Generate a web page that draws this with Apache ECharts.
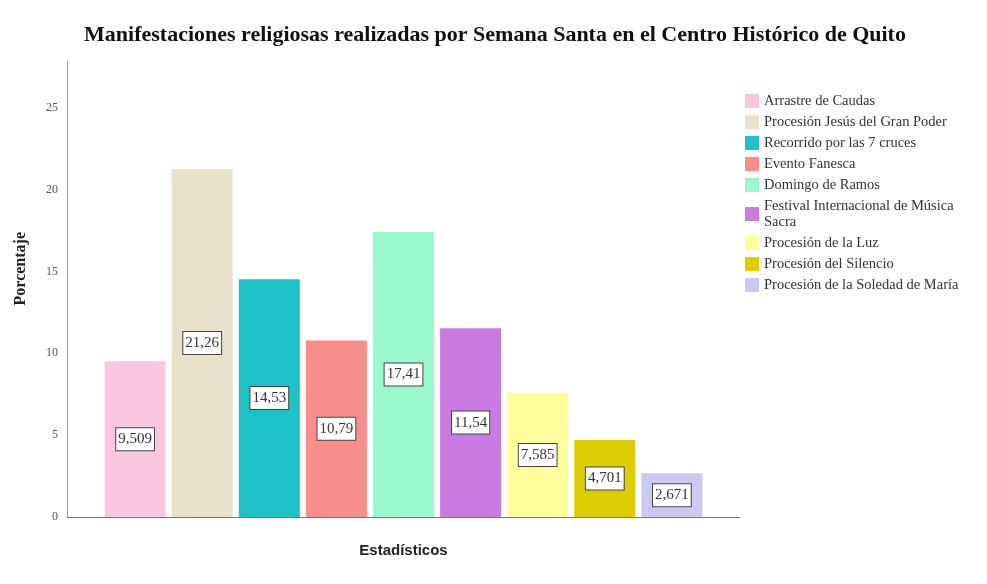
<!DOCTYPE html>
<html>
<head>
<meta charset="utf-8">
<script src="https://cdn.jsdelivr.net/npm/echarts@6/dist/echarts.min.js"></script>
<style>html,body{margin:0;padding:0;background:#fff}#c{width:987px;height:584px}</style>
</head>
<body>
<div id="c"></div>
<script>
const titleText = 'Manifestaciones religiosas realizadas por Semana Santa en el Centro Histórico de Quito';
const categories = ['Estadísticos'];
const seriesNames = [
  'Arrastre de Caudas',
  'Procesión Jesús del Gran Poder',
  'Recorrido por las 7 cruces',
  'Evento Fanesca',
  'Domingo de Ramos',
  'Festival Internacional de Música Sacra',
  'Procesión de la Luz',
  'Procesión del Silencio',
  'Procesión de la Soledad de María'
];
const values = [9.509, 21.26, 14.53, 10.79, 17.41, 11.54, 7.585, 4.701, 2.671];
const colors = ['#F9C6E0','#E8E1CB','#1EC2C6','#F88E8C','#9AF8CF','#C97BE2','#FDFD9C','#DDCD05','#C9C9F2'];
const yTicks = [0, 5, 10, 15, 20, 25];

const serif = '"Liberation Serif","DejaVu Serif",serif';
const chart = echarts.init(document.getElementById('c'));
const series = seriesNames.map((n, i) => ({
  name: n,
  type: 'bar',
  data: [values[i]],
  barWidth: 61,
  barGap: '10%',
  itemStyle: { color: colors[i] },
  label: {
    show: true,
    position: 'inside',
    formatter: p => String(p.value).replace('.', ','),
    fontFamily: serif,
    fontSize: 15,
    color: '#333',
    backgroundColor: '#fff',
    borderColor: '#444',
    borderWidth: 1,
    padding: [4, 2, 3, 2]
  }
}));
chart.setOption({
  animation: false,
  backgroundColor: '#fff',
  title: {
    text: titleText,
    left: 490,
    textAlign: 'center',
    top: 19,
    textStyle: { fontFamily: serif, fontWeight: 'bold', fontSize: 22, color: '#111' }
  },
  legend: {
    orient: 'vertical',
    left: 740,
    top: 88,
    itemWidth: 14,
    itemHeight: 14,
    itemGap: 5,
    icon: 'rect',
    formatter: n => n === 'Festival Internacional de Música Sacra' ? 'Festival Internacional de Música\nSacra' : n,
    textStyle: { fontFamily: serif, fontSize: 14.5, color: '#333', lineHeight: 16, padding: [0, 0, 0, 0] },
    data: seriesNames
  },
  grid: { left: 67, right: 247, top: 62, bottom: 67 },
  graphic: [{
    type: 'text',
    left: 13,
    top: 232,
    rotation: Math.PI / 2,
    style: { text: 'Porcentaje', fontFamily: serif, fontWeight: 'bold', fontSize: 16, fill: '#222' }
  }],
  xAxis: {
    type: 'category',
    data: categories,
    name: 'Estadísticos',
    nameLocation: 'middle',
    nameGap: 26,
    nameTextStyle: { fontFamily: 'Arial, "Liberation Sans", sans-serif', fontWeight: 'bold', fontSize: 15, color: '#222' },
    axisLine: { lineStyle: { color: '#777', width: 1 } },
    axisTick: { show: false },
    axisLabel: { show: false }
  },
  yAxis: {
    type: 'value',
    min: 0,
    max: 27.8,
    interval: 5,
    axisLine: { show: true, lineStyle: { color: '#999', width: 1 } },
    axisTick: { show: false },
    splitLine: { show: false },
    axisLabel: {
      showMaxLabel: false,
      fontFamily: serif, fontSize: 12, color: '#555', margin: 9,
      formatter: v => yTicks.includes(v) ? String(v) : ''
    }
  },
  series: series
});
</script>
</body>
</html>
